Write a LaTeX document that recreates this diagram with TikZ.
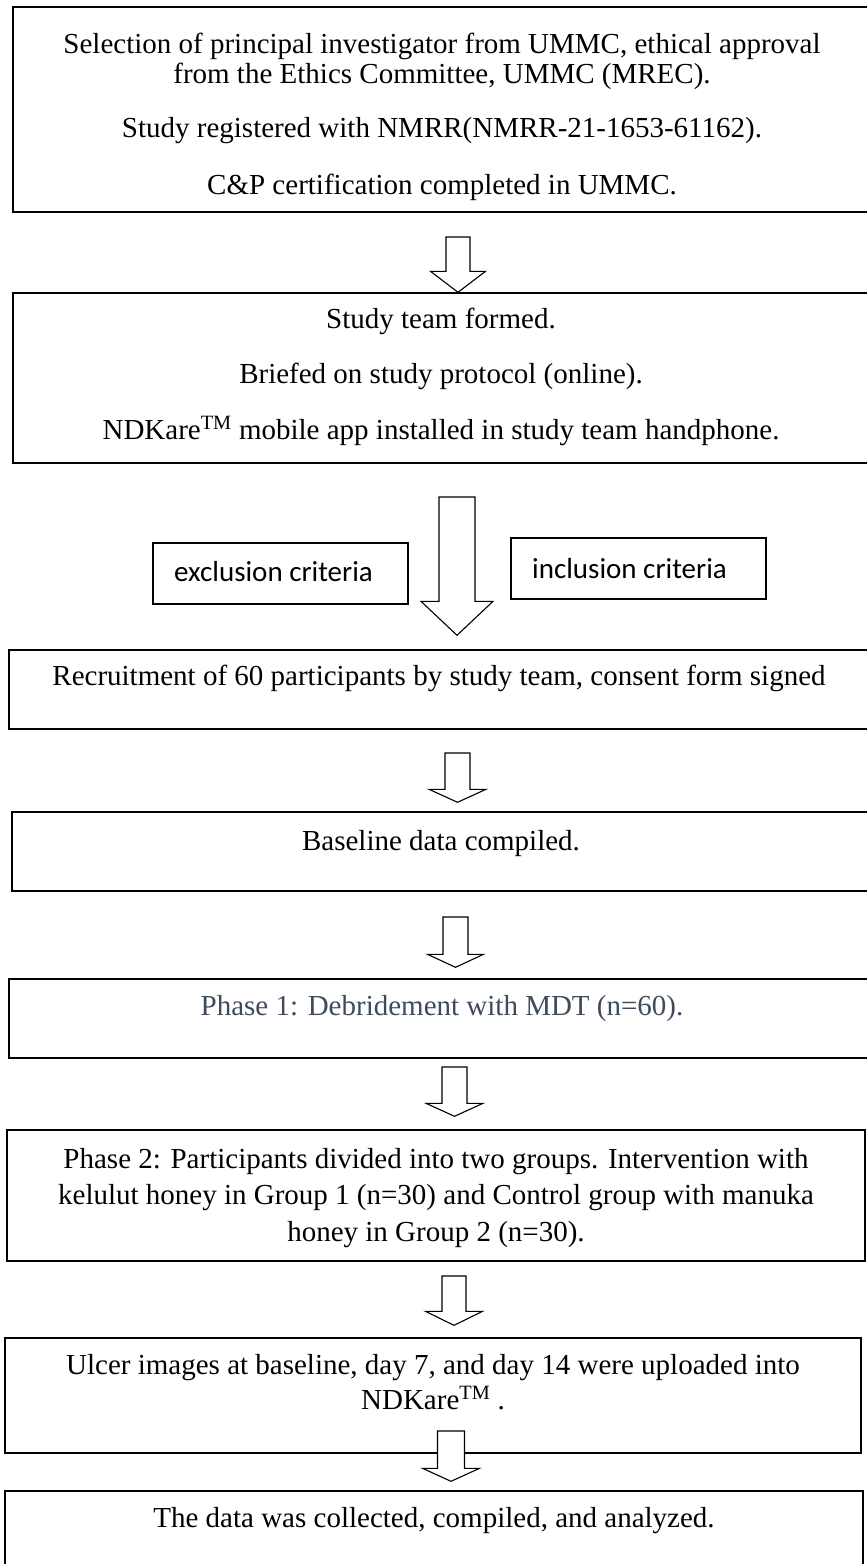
\documentclass[tikz,border=0pt]{standalone}
\usepackage{fontspec}
\setmainfont{Liberation Serif}
\newfontfamily\calibri{Carlito}
\usetikzlibrary{calc,fit}

\definecolor{phaseblue}{HTML}{3E4B5B}

\tikzset{
  flowbox/.style={draw, line width=1.4pt, inner sep=0pt},
  critbox/.style={draw, line width=1.3pt, inner sep=0pt},
  flowtext/.style={anchor=base, inner sep=0pt, font=\fontsize{29}{34}\selectfont},
  crittext/.style={anchor=base west, inner sep=0pt, font=\calibri\fontsize{29}{34}\selectfont},
  arrowline/.style={draw, fill=white, line width=1.1pt, line join=miter},
}

% 空心箭头: #1 起点, #2 目标节点, #3 与目标的间隙, #4 箭杆半宽, #5 箭头半宽, #6 箭头长度
\newcommand{\hollowarrow}[6]{%
  \draw[arrowline] let \p1=(#1), \p2=(#1 |- #2.north) in
    (\x1-#4,\y1) -- (\x1+#4,\y1) -- (\x1+#4,\y2+#3+#6) -- (\x1+#5,\y2+#3+#6)
    -- (\x1,\y2+#3) -- (\x1-#5,\y2+#3+#6) -- (\x1-#4,\y2+#3+#6) -- cycle;}

\begin{document}
\begin{tikzpicture}[x=1pt, y=-1pt]
    \useasboundingbox (0,0) rectangle (867,1564);
    \clip (0,0) rectangle (867,1564);

    % 伦理审批
    \node[flowbox, fit={(13,7) (871,212)}] (ethics) {};
    \node[flowtext] (ethicsa) at (442,53) {Selection of principal investigator from UMMC, ethical approval};
    \node[flowtext] (ethicsb) at (442,83) {from the Ethics Committee, UMMC (MREC).};
    \node[flowtext] (ethicsc) at (442,137) {Study registered with NMRR(NMRR-21-1653-61162).};
    \node[flowtext] (ethicsd) at (442,194) {C\&P certification completed in UMMC.};

    % 研究团队
    \node[flowbox, fit={(13,293) (869,463)}] (team) {};
    \node[flowtext] (teama) at (441,328) {Study team formed.};
    \node[flowtext] (teamb) at (441,383) {Briefed on study protocol (online).};
    \node[flowtext] (teamc) at (441,439) {NDKare\textsuperscript{TM} mobile app installed in study team handphone.};

    % 纳入与排除标准
    \node[critbox, fit={(153,543) (408,604)}] (exclusion) {};
    \node[crittext] (exclusiont) at (174,581) {exclusion criteria};
    \node[critbox, fit={(511,538) (766,599)}] (inclusion) {};
    \node[crittext] (inclusiont) at (532,578) {inclusion criteria};

    % 招募
    \node[flowbox, fit={(9,650) (869,729)}] (recruit) {};
    \node[flowtext] (recruitt) at (439,685) {Recruitment of 60 participants by study team, consent form signed};

    % 基线数据
    \node[flowbox, fit={(12,812) (870,891)}] (basedata) {};
    \node[flowtext] (basedatat) at (441,850) {Baseline data compiled.};

    % 第一阶段
    \node[flowbox, fit={(9,979) (875,1058)}] (phaseone) {};
    \node[flowtext, text=phaseblue] (phaseonet) at (442,1015) {Phase 1: Debridement with MDT (n=60).};

    % 第二阶段
    \node[flowbox, fit={(7,1130) (865,1261)}] (phasetwo) {};
    \node[flowtext] (phasetwoa) at (436,1168) {Phase 2: Participants divided into two groups. Intervention with};
    \node[flowtext] (phasetwob) at (436,1204) {kelulut honey in Group 1 (n=30) and Control group with manuka};
    \node[flowtext] (phasetwoc) at (436,1241) {honey in Group 2 (n=30).};

    % 图像上传
    \node[flowbox, fit={(5,1338) (861,1453)}] (ulcer) {};
    \node[flowtext] (ulcera) at (433,1374) {Ulcer images at baseline, day 7, and day 14 were uploaded into};
    \node[flowtext] (ulcerb) at (433,1409) {NDKare\textsuperscript{TM} .};

    % 数据分析
    \node[flowbox, fit={(5,1491) (863,1590)}] (analysis) {};
    \node[flowtext] (analysist) at (434,1527) {The data was collected, compiled, and analyzed.};

    % 空心箭头
    \coordinate (arrowa) at (458,237);
    \coordinate (arrowb) at (457,497);
    \coordinate (arrowc) at (457.5,753);
    \coordinate (arrowd) at (455.5,917);
    \coordinate (arrowe) at (454.5,1067);
    \coordinate (arrowf) at (454,1276);
    \coordinate (arrowg) at (451,1431);
    \hollowarrow{arrowa}{team}{0pt}{12pt}{27.5pt}{21pt}
    \hollowarrow{arrowb}{recruit}{14pt}{18pt}{36pt}{34pt}
    \hollowarrow{arrowc}{basedata}{9pt}{12.5pt}{28.5pt}{13pt}
    \hollowarrow{arrowd}{phaseone}{11pt}{12.5pt}{28pt}{13pt}
    \hollowarrow{arrowe}{phasetwo}{13pt}{12.5pt}{28.5pt}{13pt}
    \hollowarrow{arrowf}{ulcer}{12pt}{12pt}{28.5pt}{14pt}
    \hollowarrow{arrowg}{analysis}{9pt}{13.5pt}{28.5pt}{13pt}
\end{tikzpicture}
\end{document}
